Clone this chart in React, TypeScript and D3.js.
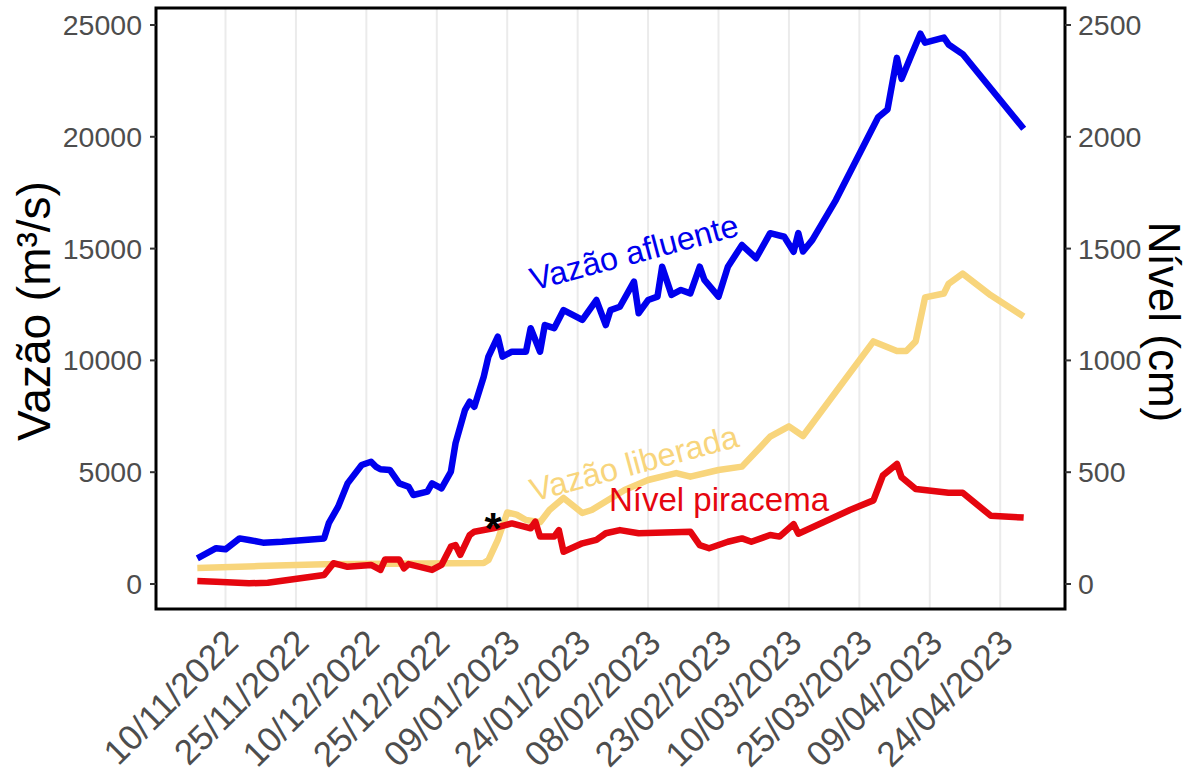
import React from "react";
import * as d3 from "d3";

// ---------- DATA ----------
const afluenteDates = [
  "2022-11-04","2022-11-08","2022-11-10","2022-11-13","2022-11-15","2022-11-18","2022-11-22",
  "2022-12-01","2022-12-02","2022-12-04","2022-12-06","2022-12-09","2022-12-11","2022-12-12",
  "2022-12-13","2022-12-15","2022-12-17","2022-12-19","2022-12-20","2022-12-23","2022-12-24",
  "2022-12-26","2022-12-28","2022-12-29","2022-12-31","2023-01-01","2023-01-02","2023-01-04",
  "2023-01-05","2023-01-07","2023-01-08","2023-01-10","2023-01-13","2023-01-14","2023-01-16",
  "2023-01-17","2023-01-19","2023-01-21","2023-01-25","2023-01-28","2023-01-30","2023-01-31",
  "2023-02-02","2023-02-05","2023-02-06","2023-02-08","2023-02-10","2023-02-11","2023-02-13",
  "2023-02-15","2023-02-17","2023-02-19","2023-02-20","2023-02-23","2023-02-25","2023-02-28",
  "2023-03-03","2023-03-06","2023-03-09","2023-03-11","2023-03-12","2023-03-13","2023-03-15",
  "2023-03-20","2023-03-29","2023-03-31","2023-04-02","2023-04-03","2023-04-05","2023-04-07",
  "2023-04-08","2023-04-12","2023-04-13","2023-04-16","2023-04-29",
];
const afluenteValues = [
  1150,1600,1550,2040,1970,1850,1890,
  2040,2720,3460,4500,5320,5470,5250,
  5130,5100,4500,4350,3980,4130,4500,
  4280,5020,6300,7780,8150,7930,9270,
  10170,11060,10170,10390,10390,11440,10390,
  11580,11440,12250,11810,12700,11580,12250,
  12400,13520,12110,12700,12850,14190,12930,
  13150,13000,14190,13600,12850,14190,15160,
  14570,15690,15530,14860,15690,14870,15390,
  17170,20870,21220,23530,22590,23610,24610,
  24210,24440,24130,23700,20360,
];

const liberadaDates = [
  "2022-11-04","2022-11-17","2022-12-01","2023-01-04","2023-01-05","2023-01-07","2023-01-09",
  "2023-01-11","2023-01-13","2023-01-16","2023-01-18","2023-01-21","2023-01-25","2023-01-27",
  "2023-02-03","2023-02-08","2023-02-14","2023-02-17","2023-02-23","2023-02-28","2023-03-04",
  "2023-03-06","2023-03-10","2023-03-13","2023-03-28","2023-04-02","2023-04-04","2023-04-06",
  "2023-04-08","2023-04-12","2023-04-13","2023-04-16","2023-04-22","2023-04-29",
];
const liberadaValues = [
  720,800,880,940,1070,1970,3200,
  3100,2860,2760,3310,3850,3175,3310,
  4200,4650,4960,4800,5100,5250,6140,
  6590,7050,6620,10850,10420,10420,10850,
  12820,12990,13420,13880,12910,11960,
];

// Nível piracema, in cm (right axis)
const nivelDates = [
  "2022-11-04","2022-11-08","2022-11-15","2022-11-19","2022-12-01","2022-12-03","2022-12-06",
  "2022-12-11","2022-12-13","2022-12-14","2022-12-17","2022-12-18","2022-12-19","2022-12-24",
  "2022-12-26","2022-12-28","2022-12-29","2022-12-30","2023-01-01","2023-01-02","2023-01-06",
  "2023-01-10","2023-01-14","2023-01-15","2023-01-16","2023-01-19","2023-01-20","2023-01-21",
  "2023-01-25","2023-01-28","2023-01-30","2023-02-02","2023-02-06","2023-02-17","2023-02-19",
  "2023-02-21","2023-02-25","2023-02-28","2023-03-02","2023-03-06","2023-03-08","2023-03-11",
  "2023-03-12","2023-03-23","2023-03-28","2023-03-30","2023-04-02","2023-04-03","2023-04-06",
  "2023-04-13","2023-04-16","2023-04-22","2023-04-29",
];
const nivelValues = [
  13,10,3,6,40,93,77,
  85,63,110,110,70,89,63,
  85,167,174,130,219,234,249,
  271,249,279,212,212,241,144,
  182,197,227,241,227,234,174,
  160,189,204,189,219,212,268,
  225,331,374,485,537,477,425,
  408,408,305,297,
];

const xTickDates = [
  "2022-11-10","2022-11-25","2022-12-10","2022-12-25","2023-01-09","2023-01-24",
  "2023-02-08","2023-02-23","2023-03-10","2023-03-25","2023-04-09","2023-04-24",
];
const xTickLabels = [
  "10/11/2022","25/11/2022","10/12/2022","25/12/2022","09/01/2023","24/01/2023",
  "08/02/2023","23/02/2023","10/03/2023","25/03/2023","09/04/2023","24/04/2023",
];
const yLeftTicks = [0, 5000, 10000, 15000, 20000, 25000];
const yRightTicks = [0, 500, 1000, 1500, 2000, 2500];

// ---------- STYLE ----------
const BLUE = "#0000EE";
const YELLOW = "#F8D57C";
const RED = "#E5060F";
const FONT = "'Liberation Sans', Arial, Helvetica, sans-serif";

const parse = d3.timeParse("%Y-%m-%d");

export default function App() {
  const W = 1190, H = 778;
  const left = 156, right = 1065, top = 8, bottom = 609;

  const first = parse(afluenteDates[0]) as Date;
  const last = parse(afluenteDates[afluenteDates.length - 1]) as Date;
  const pad = (last.getTime() - first.getTime()) * 0.05;
  const x = d3.scaleTime()
    .domain([new Date(first.getTime() - pad), new Date(last.getTime() + pad)])
    .range([left, right]);
  const yL = d3.scaleLinear().domain([-1118, 25760]).range([bottom, top]);
  const yR = d3.scaleLinear().domain([-111.8, 2576]).range([bottom, top]);

  const mk = (dates: string[], vals: number[]) =>
    dates.map((d, i) => [parse(d) as Date, vals[i]] as [Date, number]);

  const lineL = d3.line<[Date, number]>().x(d => x(d[0])).y(d => yL(d[1]));
  const lineR = d3.line<[Date, number]>().x(d => x(d[0])).y(d => yR(d[1]));

  const afl = mk(afluenteDates, afluenteValues);
  const lib = mk(liberadaDates, liberadaValues);
  const niv = mk(nivelDates, nivelValues);

  return (
    <svg width={W} height={H} style={{ position: "absolute", left: 0, top: 0, background: "#fff" }}
      fontFamily={FONT}>
      <rect x={0} y={0} width={W} height={H} fill="#fff" />
      {/* grid */}
      {xTickDates.map((d, i) => {
        const xx = x(parse(d) as Date);
        return <line key={"g" + i} x1={xx} x2={xx} y1={top} y2={bottom} stroke="#EBEBEB" strokeWidth={2} />;
      })}
      {/* lines */}
      <path d={lineL(afl) || ""} fill="none" stroke={BLUE} strokeWidth={6.5} strokeLinejoin="round" />
      <path d={lineL(lib) || ""} fill="none" stroke={YELLOW} strokeWidth={6.5} strokeLinejoin="round" />
      <path d={lineR(niv) || ""} fill="none" stroke={RED} strokeWidth={6.5} strokeLinejoin="round" />

      {/* labels */}
      <text transform="translate(634,252) rotate(-15)" textAnchor="middle" dy="0.35em"
        fontSize={32.5} fill={BLUE}>Vazão afluente</text>
      <text transform="translate(634,463) rotate(-15)" textAnchor="middle" dy="0.35em"
        fontSize={32.5} fill={YELLOW}>Vazão liberada</text>
      <text x={719} y={511} textAnchor="middle" fontSize={33} fill={RED}>Nível piracema</text>
      <text x={493} y={544} textAnchor="middle" fontSize={44} fontWeight="bold" fill="#000">*</text>

      {/* border */}
      <rect x={left} y={top} width={right - left} height={bottom - top} fill="none" stroke="#000" strokeWidth={3} />

      {/* left axis */}
      {yLeftTicks.map((t, i) => (
        <g key={"yl" + i}>
          <line x1={left - 6} x2={left} y1={yL(t)} y2={yL(t)} stroke="#333" strokeWidth={2} />
          <text x={left - 14} y={yL(t)} dy="0.35em" textAnchor="end" fontSize={28.5} fill="#4D4D4D">{t}</text>
        </g>
      ))}
      {/* right axis */}
      {yRightTicks.map((t, i) => (
        <g key={"yr" + i}>
          <line x1={right} x2={right + 6} y1={yR(t)} y2={yR(t)} stroke="#333" strokeWidth={2} />
          <text x={right + 13} y={yR(t)} dy="0.35em" textAnchor="start" fontSize={28.5} fill="#4D4D4D">{t}</text>
        </g>
      ))}
      {/* x axis labels */}
      {xTickDates.map((d, i) => {
        const xx = x(parse(d) as Date);
        return (
          <text key={"xl" + i} transform={`translate(${xx - 3},627) rotate(-45)`} textAnchor="end"
            dy="0.72em" fontSize={35} fill="#4D4D4D">{xTickLabels[i]}</text>
        );
      })}
      {/* axis titles */}
      <text transform="translate(50,311) rotate(-90)" textAnchor="middle" fontSize={46} fill="#000">Vazão (m³/s)</text>
      <text transform="translate(1149,322) rotate(90)" textAnchor="middle" fontSize={44} fill="#000">Nível (cm)</text>
    </svg>
  );
}
